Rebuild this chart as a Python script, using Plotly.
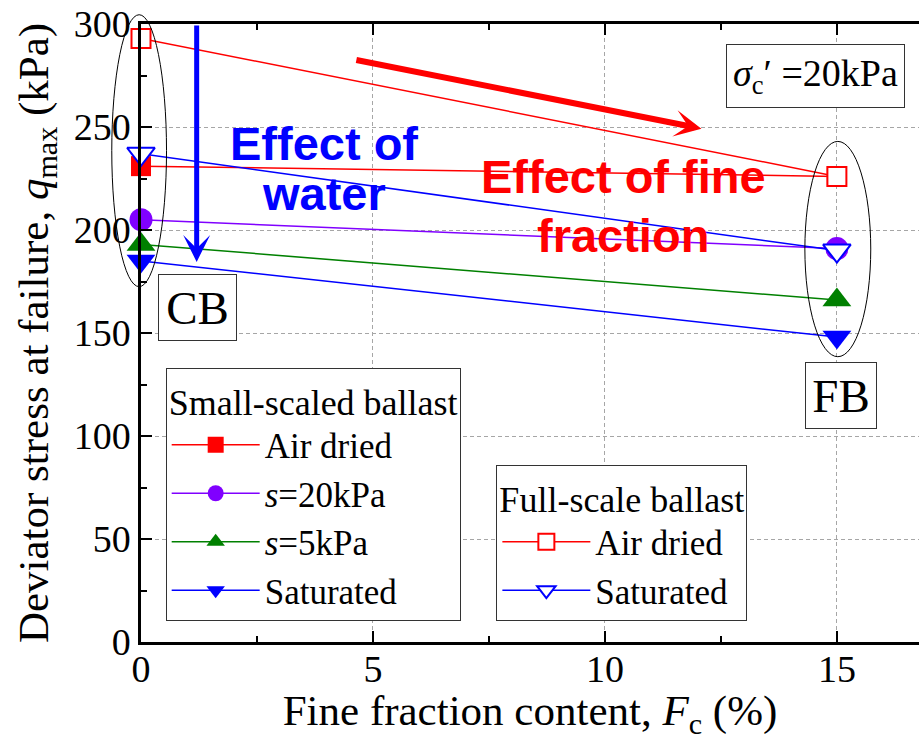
import plotly.graph_objects as go

# Fine fraction content (%) for clean ballast (CB) and fouled ballast (FB)
fc = [0, 15]

# Small-scaled ballast, deviator stress at failure q_max (kPa)
small_air_dried = [231, 226]
small_s20 = [205, 191]
small_s5 = [193, 166]
small_saturated = [185, 148]

# Full-scale ballast, q_max (kPa)
full_air_dried = [293, 226]
full_saturated = [237, 190]

x_ticks = [0, 5, 10, 15]
y_ticks = [0, 50, 100, 150, 200, 250, 300]

SERIF = "Liberation Serif, Times New Roman, serif"
SANS = "Liberation Sans, Arial, sans-serif"
RED = "#ff0000"
PURPLE = "#8000ff"
GREEN = "#008000"
BLUE = "#0000ff"

XR = [0, 16.77]
YR = [0, 300]


def to_px(v):
    return (v - XR[0]) / (XR[1] - XR[0])


def to_py(v):
    return (v - YR[0]) / (YR[1] - YR[0])


fig = go.Figure()

small_series = [
    ("Air dried", small_air_dried, "square", RED, 20),
    ("<i>s</i>=20kPa", small_s20, "circle", PURPLE, 23),
    ("<i>s</i>=5kPa", small_s5, "triangle-up", GREEN, 25),
    ("Saturated", small_saturated, "triangle-down", BLUE, 25),
]
for name, vals, sym, col, sz in small_series:
    fig.add_trace(go.Scatter(
        x=fc, y=vals, name=name, mode="lines+markers",
        line=dict(color=col, width=1.5),
        marker=dict(symbol=sym, size=sz, color=col, line=dict(width=0)),
        cliponaxis=False, legend="legend",
    ))

full_series = [
    ("Air dried", full_air_dried, "square", RED, 19),
    ("Saturated", full_saturated, "triangle-down", BLUE, 24),
]
for name, vals, sym, col, sz in full_series:
    fig.add_trace(go.Scatter(
        x=fc, y=vals, name=name, mode="lines+markers",
        line=dict(color=col, width=1.5),
        marker=dict(symbol=sym, size=sz, color="white", line=dict(color=col, width=2)),
        cliponaxis=False, legend="legend2",
    ))

# Ellipses grouping CB and FB results
for x0, x1, y0, y1 in [(-0.63, 0.55, 172.5, 304.5), (14.31, 15.73, 138.5, 243)]:
    fig.add_shape(type="circle", xref="paper", yref="paper",
                  x0=to_px(x0), x1=to_px(x1), y0=to_py(y0), y1=to_py(y1),
                  line=dict(color="black", width=1), layer="above")

annotations = [
    # Effect arrows
    dict(x=1.2, y=184.5, ax=1.2, ay=300, xref="x", yref="y", axref="x", ayref="y",
         text="", showarrow=True, arrowhead=3, arrowsize=0.9, arrowwidth=5,
         arrowcolor=BLUE, standoff=0, startstandoff=0),
    dict(x=12.08, y=249.2, ax=4.61, ay=282.7, xref="x", yref="y", axref="x", ayref="y",
         text="", showarrow=True, arrowhead=3, arrowsize=0.75, arrowwidth=6,
         arrowcolor=RED, standoff=0, startstandoff=0),
    # Effect labels
    dict(x=3.95, y=242, xref="x", yref="y", text="<b>Effect of</b>", showarrow=False,
         font=dict(family=SANS, size=47, color=BLUE)),
    dict(x=3.95, y=217.5, xref="x", yref="y", text="<b>water</b>", showarrow=False,
         font=dict(family=SANS, size=47, color=BLUE)),
    dict(x=10.39, y=226, xref="x", yref="y", text="<b>Effect of fine</b>", showarrow=False,
         font=dict(family=SANS, size=47, color=RED)),
    dict(x=10.39, y=197.5, xref="x", yref="y", text="<b>fraction</b>", showarrow=False,
         font=dict(family=SANS, size=47, color=RED)),
    # Boxed labels
    dict(x=1.224, y=162.5, xref="x", yref="y", text="CB", showarrow=False,
         font=dict(family=SERIF, size=47, color="black"), bgcolor="white",
         bordercolor="#333333", borderwidth=1, borderpad=0, width=77, height=65),
    dict(x=15.08, y=119.6, xref="x", yref="y", text="FB", showarrow=False,
         font=dict(family=SERIF, size=47, color="black"), bgcolor="white",
         bordercolor="#333333", borderwidth=1, borderpad=0, width=70, height=65),
    dict(x=14.54, y=274.6, xref="x", yref="y",
         text="<i>σ</i><sub>c</sub>′ =20kPa", showarrow=False,
         font=dict(family=SERIF, size=38, color="black"), bgcolor="white",
         bordercolor="#333333", borderwidth=1, borderpad=0, width=177, height=62),
]

axis_common = dict(
    showline=True, linecolor="black", linewidth=2.5,
    ticks="inside", ticklen=11, tickwidth=2, tickcolor="black",
    showgrid=True, gridcolor="#a6a6a6", gridwidth=1, griddash="4px,3px",
    zeroline=False,
    tickfont=dict(family=SERIF, size=38, color="black"),
    title_font=dict(family=SERIF, size=43, color="black"),
)

fig.update_layout(
    width=919, height=741,
    margin=dict(l=141, r=0, t=24, b=99),
    paper_bgcolor="white", plot_bgcolor="white",
    xaxis=dict(
        range=XR, tickvals=x_ticks, mirror="ticks", ticklabelstandoff=-8,
        minor=dict(dtick=2.5, tick0=0, ticks="inside", ticklen=6, tickwidth=2,
                   tickcolor="black", showgrid=False),
        title=dict(text="Fine fraction content, <i>F</i><sub>c</sub> (%)", standoff=10),
        **axis_common,
    ),
    yaxis=dict(
        range=YR, tickvals=y_ticks, mirror=False,
        minor=dict(dtick=25, tick0=0, ticks="inside", ticklen=6, tickwidth=2,
                   tickcolor="black", showgrid=False),
        title=dict(text="Deviator stress at failure, <i>q</i><sub>max</sub> (kPa)", standoff=12),
        **axis_common,
    ),
    legend=dict(
        x=to_px(0.532), y=0.0345, xanchor="left", yanchor="bottom",
        title=dict(text="Small-scaled ballast", font=dict(family=SERIF, size=36, color="black")),
        font=dict(family=SERIF, size=35, color="black"),
        bgcolor="white", bordercolor="#333333", borderwidth=1,
        itemwidth=88, tracegroupgap=0,
    ),
    legend2=dict(
        x=to_px(7.66), y=0.0345, xanchor="left", yanchor="bottom",
        title=dict(text="Full-scale ballast", font=dict(family=SERIF, size=36, color="black")),
        font=dict(family=SERIF, size=35, color="black"),
        bgcolor="white", bordercolor="#333333", borderwidth=1,
        itemwidth=88, tracegroupgap=0,
    ),
    annotations=annotations,
)

fig.write_html("out.html")
